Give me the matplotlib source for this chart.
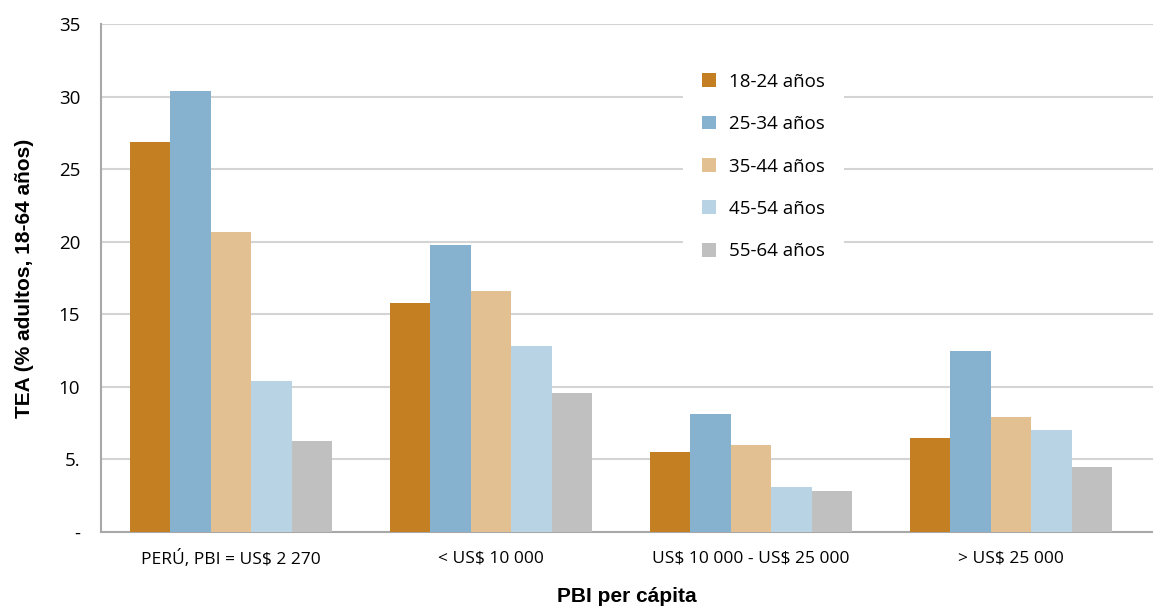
import matplotlib.pyplot as plt
import numpy as np

categories = ['PERÚ, PBI = US\\$ 2 270', '< US\\$ 10 000', 'US\\$ 10 000 - US\\$ 25 000', '> US\\$ 25 000']
age_groups = ['18-24 años', '25-34 años', '35-44 años', '45-54 años', '55-64 años']
v_18_24 = [26.9, 15.8, 5.5, 6.5]
v_25_34 = [30.4, 19.8, 8.1, 12.5]
v_35_44 = [20.7, 16.6, 6.0, 7.9]
v_45_54 = [10.4, 12.8, 3.1, 7.0]
v_55_64 = [6.3, 9.6, 2.8, 4.5]
colors = ['#c47f22', '#86b2d0', '#e2c092', '#b7d3e4', '#c0c0c0']
y_ticks = [0, 5, 10, 15, 20, 25, 30, 35]
y_tick_labels = ['-', '5.', '10', '15', '20', '25', '30', '35']

series = [v_18_24, v_25_34, v_35_44, v_45_54, v_55_64]

plt.rcParams['font.family'] = ['Open Sans', 'DejaVu Sans']

fig = plt.figure(figsize=(11.53, 6.08), dpi=100)
ax = fig.add_axes([0.0876, 0.125, 0.9124, 0.8355])

x = np.arange(len(categories))
w = 0.156
for i, (vals, lab) in enumerate(zip(series, age_groups)):
    ax.bar(x + (i - 2) * w, vals, width=w, color=colors[i], label=lab, zorder=3)

ax.set_xlim(-0.5, 3.546)
ax.set_ylim(0, 35)
ax.set_yticks(y_ticks)
ax.set_yticklabels(y_tick_labels, fontsize=13.5)
ax.set_xticks(x)
ax.set_xticklabels(categories, fontsize=12.5)
ax.tick_params(axis='x', length=0, pad=13)
ax.tick_params(axis='y', length=0, pad=15)
ax.yaxis.grid(True, color='#d4d4d4', lw=1.5, zorder=0)

for s in ['top', 'right']:
    ax.spines[s].set_visible(False)
ax.spines['left'].set_color('#a8a8a8')
ax.spines['bottom'].set_color('#a8a8a8')
ax.spines['left'].set_linewidth(1.5)
ax.spines['bottom'].set_linewidth(1.5)

ax.set_ylabel('TEA (% adultos, 18-64 años)', fontsize=15, fontweight='bold',
              family='Liberation Sans', labelpad=18)
ax.set_xlabel('PBI per cápita', fontsize=15, fontweight='bold',
              family='Liberation Sans', labelpad=14)

leg = ax.legend(loc='upper left', bbox_to_anchor=(683 / 1153, 1 - 54 / 608),
                bbox_transform=fig.transFigure, frameon=True, fontsize=13.5,
                handlelength=0.75, handleheight=0.75, labelspacing=1.3,
                handletextpad=0.7, borderpad=1.0, borderaxespad=0)
leg.get_frame().set_facecolor('white')
leg.get_frame().set_edgecolor('none')
leg.get_frame().set_alpha(1)
leg.get_frame().set_boxstyle('square', pad=0)

fig.savefig('out.png', dpi=100)
